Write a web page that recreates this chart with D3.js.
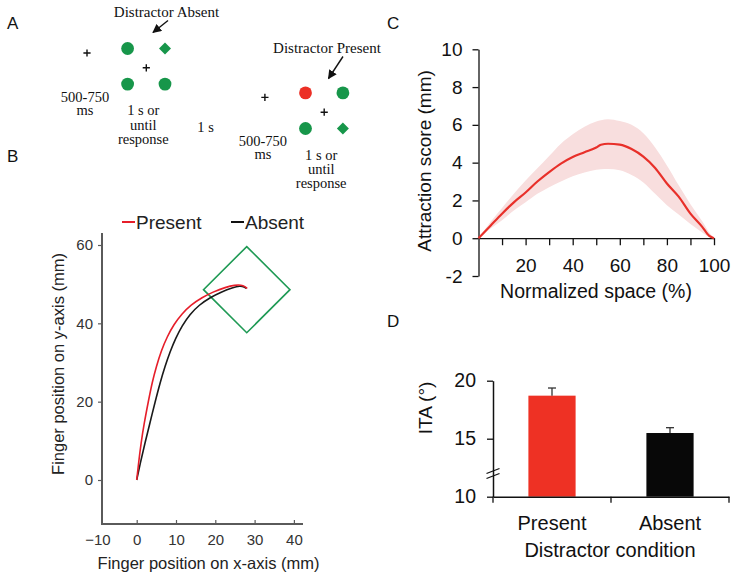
<!DOCTYPE html>
<html><head><meta charset="utf-8">
<script src="https://cdn.jsdelivr.net/npm/d3@7"></script>
<style>body{margin:0;background:#fff} svg{display:block}</style>
</head><body>
<svg id="fig" width="737" height="579"></svg>
<script>
// ================= DATA =================
// Panel A – schematic of trial sequence (timeline steps and stimulus grid cells)
const timelineSteps = [0, 1, 2, 3, 4];              // fixation, display, ITI, fixation, display
const fixationSteps = [0, 3];
const displaySteps = [1, 4];
const itiSteps = [2];
const fixationLabel = ["500-750", "ms"];
const displayLabel = ["1 s or", "until", "response"];
const itiLabel = ["1 s"];
const trialTitles = ["Distractor Absent", "Distractor Present"];
const absentDisplay = [
  {col: 0, row: 0, shape: "circle", kind: "nontarget"},
  {col: 1, row: 0, shape: "diamond", kind: "target"},
  {col: 0, row: 1, shape: "circle", kind: "nontarget"},
  {col: 1, row: 1, shape: "circle", kind: "nontarget"}
];
const presentDisplay = [
  {col: 0, row: 0, shape: "circle", kind: "distractor"},
  {col: 1, row: 0, shape: "circle", kind: "nontarget"},
  {col: 0, row: 1, shape: "circle", kind: "nontarget"},
  {col: 1, row: 1, shape: "diamond", kind: "target"}
];

// Panel B – mean finger trajectories (mm)
const presentX = [0, 0, 0.5, 1.1, 1.9, 2.95, 3.95, 5.0, 6.25, 7.75, 9.45, 11.45, 13.8, 16.6, 19.6, 22.6, 25.0, 26.6, 27.6, 28.1, 28.1];
const presentY = [0, 0, 4.5, 9.4, 14.5, 20, 25, 29, 33, 36.6, 39.7, 42.4, 44.7, 46.6, 48.1, 49.2, 49.8, 49.8, 49.4, 48.9, 48.9];
const absentX  = [0, 0, 0.95, 2.1, 3.35, 4.7, 6.0, 7.2, 8.5, 9.95, 11.55, 13.5, 15.9, 18.7, 21.7, 24.4, 26.3, 27.4, 27.9, 27.9];
const absentY  = [0, 0, 4.5, 9.4, 14.5, 20, 25, 29, 32.8, 36.3, 39.4, 42.3, 44.7, 46.6, 48.1, 49.1, 49.6, 49.3, 48.9, 48.9];
const targetCenter = [28, 48.6];
const targetHalfDiagonal = 11;
const bTicksX = [-10, 0, 10, 20, 30, 40];
const bTicksY = [0, 20, 40, 60];
const bSeries = ["Present", "Absent"];

// Panel C – attraction score vs normalized space
const normSpace       = [0, 5, 10, 15, 20, 25, 30, 35, 40, 45, 50, 52, 55, 60, 65, 70, 75, 80, 85, 90, 95, 98, 100];
const attractionMean  = [0, 0.65, 1.3, 1.9, 2.42, 3.0, 3.5, 3.95, 4.3, 4.55, 4.8, 4.95, 5.0, 4.95, 4.72, 4.32, 3.72, 2.9, 2.2, 1.3, 0.6, 0.12, 0];
const attractionUpper = [0, 0.85, 1.6, 2.35, 3.05, 3.7, 4.35, 5.0, 5.5, 5.9, 6.18, 6.25, 6.3, 6.2, 6.0, 5.55, 4.8, 3.85, 2.8, 1.8, 0.9, 0.3, 0];
const attractionLower = [0, 0.5, 0.95, 1.47, 1.9, 2.35, 2.7, 3.0, 3.28, 3.48, 3.62, 3.65, 3.66, 3.6, 3.35, 2.95, 2.35, 1.75, 1.25, 0.75, 0.3, 0.05, -0.05];
const cTicksY = [-2, 0, 2, 4, 6, 8, 10];
const cTicksX = [10, 20, 30, 40, 50, 60, 70, 80, 90, 100];
const cLabelsX = [20, 40, 60, 80, 100];

// Panel D – ITA by distractor condition
const conditions = ["Present", "Absent"];
const itaMean = [18.71, 15.49];
const itaErr = [0.66, 0.46];
const dTicksY = [10, 15, 20];

// ================= STYLE =================
const SANS = "'Liberation Sans', Arial, Helvetica, sans-serif";
const SERIF = "'Liberation Serif', 'Times New Roman', serif";
const GREEN = "#17964a";
const RED = "#ec2f25";
const svg = d3.select("#fig");

// panel letters
[["A", 7, 29], ["B", 7, 162], ["C", 387, 29], ["D", 387, 327]].forEach(([t, x, y]) =>
  svg.append("text").attr("x", x).attr("y", y).attr("font-family", SANS)
    .attr("font-size", 17).attr("fill", "#111").text(t));

// ================= PANEL A =================
(function () {
  const g = svg.append("g");
  const tx = d3.scaleLinear().domain([0, 4]).range([87, 324.2]);
  const ty = d3.scaleLinear().domain([0, 4]).range([53, 112.2]);
  const gx = d3.scaleLinear().domain([0, 1]).range([-18.7, 18.7]);
  const gy = d3.scaleLinear().domain([0, 1]).range([-17.8, 17.8]);
  const color = k => k === "distractor" ? RED : GREEN;

  const cross = (x, y) => g.append("path")
    .attr("d", `M${x - 3.6},${y}H${x + 3.6}M${x},${y - 3.6}V${y + 3.6}`)
    .attr("stroke", "#111").attr("stroke-width", 1.4);
  const multiline = (lines, x, y, dyLine) => {
    const t = g.append("text").attr("font-family", SERIF).attr("font-size", 14.5)
      .attr("text-anchor", "middle").attr("fill", "#111");
    lines.forEach((l, i) => t.append("tspan").attr("x", x).attr("y", y + i * dyLine).text(l));
  };

  fixationSteps.forEach(s => {
    cross(tx(s), ty(s));
    multiline(fixationLabel, tx(s) - 2, ty(s) + 49, 12.5);
  });
  itiSteps.forEach(s => multiline(itiLabel, tx(s), ty(s) + 49, 13));
  [absentDisplay, presentDisplay].forEach((items, i) => {
    const s = displaySteps[i];
    const cx = tx(s), cy = ty(s) - 1.5;
    cross(tx(s), ty(s));
    items.forEach(d => {
      const x = cx + gx(d.col), y = cy + gy(d.row);
      if (d.shape === "circle")
        g.append("circle").attr("cx", x).attr("cy", y).attr("r", 6.4).attr("fill", color(d.kind));
      else
        g.append("path").attr("d", `M${x},${y - 6}L${x + 6},${y}L${x},${y + 6}L${x - 6},${y}Z`).attr("fill", color(d.kind));
    });
    multiline(displayLabel, tx(s) - 3, ty(s) + 47.5, 14.2);
  });

  const defs = svg.append("defs");
  defs.append("marker").attr("id", "ah").attr("viewBox", "0 0 10 10").attr("refX", 9).attr("refY", 5)
    .attr("markerWidth", 9).attr("markerHeight", 9).attr("orient", "auto").attr("markerUnits", "userSpaceOnUse")
    .append("path").attr("d", "M0,0L10,5L0,10Z").attr("fill", "#111");
  const titlePos = [[166.5, 17], [327, 53]];
  const arrows = [[[168, 20.5], [153, 32.5]], [[343, 56.5], [328.5, 78.5]]];
  trialTitles.forEach((t, i) => {
    g.append("text").attr("x", titlePos[i][0]).attr("y", titlePos[i][1]).attr("font-family", SERIF)
      .attr("font-size", 15).attr("text-anchor", "middle").attr("fill", "#111").text(t);
    g.append("line").attr("x1", arrows[i][0][0]).attr("y1", arrows[i][0][1])
      .attr("x2", arrows[i][1][0]).attr("y2", arrows[i][1][1])
      .attr("stroke", "#111").attr("stroke-width", 1.4).attr("marker-end", "url(#ah)");
  });
})();

// ================= PANEL B =================
(function () {
  const g = svg.append("g");
  const x = d3.scaleLinear().domain([-10, 40]).range([97.4, 293.9]);
  const y = d3.scaleLinear().domain([0, 60]).range([480, 245]);
  const axisY = 524, axisX = 102;
  const AX = "#5a5a5a";

  g.append("line").attr("x1", axisX).attr("x2", 303).attr("y1", axisY).attr("y2", axisY)
    .attr("stroke", AX).attr("stroke-width", 2);
  g.append("line").attr("x1", axisX).attr("x2", axisX).attr("y1", axisY + 1).attr("y2", 233)
    .attr("stroke", AX).attr("stroke-width", 2);

  const xa = g.append("g").attr("transform", `translate(0,${axisY})`)
    .call(d3.axisBottom(x).tickValues(bTicksX).tickSize(-4).tickPadding(10).tickFormat(d3.format("d")));
  xa.select(".domain").remove();
  xa.selectAll(".tick line").attr("stroke", AX).attr("stroke-width", 1.2)
    .attr("opacity", d => x(d) < axisX ? 0 : 1);
  xa.selectAll("text").attr("font-family", SANS).attr("font-size", 15).attr("fill", "#333");

  const ya = g.append("g").attr("transform", `translate(${axisX},0)`)
    .call(d3.axisLeft(y).tickValues(bTicksY).tickSize(4).tickPadding(5));
  ya.select(".domain").remove();
  ya.selectAll(".tick line").attr("stroke", AX).attr("stroke-width", 1.2);
  ya.selectAll("text").attr("font-family", SANS).attr("font-size", 15).attr("fill", "#333");

  const [tcx, tcy] = targetCenter, h = targetHalfDiagonal;
  g.append("path")
    .attr("d", d3.line()([[x(tcx), y(tcy + h)], [x(tcx + h), y(tcy)], [x(tcx), y(tcy - h)], [x(tcx - h), y(tcy)]]) + "Z")
    .attr("fill", "none").attr("stroke", "#1f9a55").attr("stroke-width", 1.6);

  const line = d3.line().x(d => x(d[0])).y(d => y(d[1])).curve(d3.curveBasis);
  g.append("path").datum(d3.zip(absentX, absentY)).attr("d", line)
    .attr("fill", "none").attr("stroke", "#1a1a1a").attr("stroke-width", 1.6);
  g.append("path").datum(d3.zip(presentX, presentY)).attr("d", line)
    .attr("fill", "none").attr("stroke", "#e61e2a").attr("stroke-width", 1.6);

  const legCol = ["#e61e2a", "#111"];
  const legX = [122, 231];
  bSeries.forEach((s, i) => {
    g.append("line").attr("x1", legX[i]).attr("x2", legX[i] + 13).attr("y1", 222).attr("y2", 222)
      .attr("stroke", legCol[i]).attr("stroke-width", 2);
    g.append("text").attr("x", legX[i] + 14).attr("y", 229).attr("font-family", SANS)
      .attr("font-size", 19).attr("fill", "#222").text(s);
  });

  g.append("text").attr("x", 208.5).attr("y", 569).attr("text-anchor", "middle")
    .attr("font-family", SANS).attr("font-size", 16.5).attr("fill", "#222")
    .text("Finger position on x-axis (mm)");
  g.append("text").attr("transform", "translate(64,364) rotate(-90)").attr("text-anchor", "middle")
    .attr("font-family", SANS).attr("font-size", 16.5).attr("fill", "#222")
    .text("Finger position on y-axis (mm)");
})();

// ================= PANEL C =================
(function () {
  const g = svg.append("g");
  const x = d3.scaleLinear().domain([0, 100]).range([478.5, 714]);
  const y = d3.scaleLinear().domain([-2, 10]).range([276, 49.3]);

  g.append("path").datum(normSpace.map((v, i) => [v, attractionLower[i], attractionUpper[i]]))
    .attr("d", d3.area().x(d => x(d[0])).y0(d => y(d[1])).y1(d => y(d[2])).curve(d3.curveMonotoneX))
    .attr("fill", "#f8dede");

  const ya = g.append("g").attr("transform", `translate(${x(0)},0)`)
    .call(d3.axisLeft(y).tickValues(cTicksY).tickSize(6).tickPadding(10).tickSizeOuter(0).tickFormat(d3.format("d")));
  const xa = g.append("g").attr("transform", `translate(0,${y(0)})`)
    .call(d3.axisBottom(x).tickValues(cTicksX).tickSize(7).tickPadding(13).tickSizeOuter(0)
      .tickFormat(d => cLabelsX.includes(d) ? d : ""));
  [ya, xa].forEach(a => {
    a.select(".domain").attr("stroke", "#111").attr("stroke-width", 1.3);
    a.selectAll(".tick line").attr("stroke", "#111").attr("stroke-width", 1.3);
    a.selectAll("text").attr("font-family", SANS).attr("font-size", 19).attr("fill", "#111");
  });
  ya.selectAll("text").text(d => d < 0 ? "-" + Math.abs(d) : d);

  g.append("path").datum(d3.zip(normSpace, attractionMean))
    .attr("d", d3.line().x(d => x(d[0])).y(d => y(d[1])).curve(d3.curveMonotoneX))
    .attr("fill", "none").attr("stroke", "#e8302a").attr("stroke-width", 2.2);

  g.append("text").attr("x", 596).attr("y", 297.5).attr("text-anchor", "middle")
    .attr("font-family", SANS).attr("font-size", 19.5).attr("fill", "#111").text("Normalized space (%)");
  g.append("text").attr("transform", "translate(431,161) rotate(-90)").attr("text-anchor", "middle")
    .attr("font-family", SANS).attr("font-size", 19).attr("fill", "#111").text("Attraction score (mm)");
})();

// ================= PANEL D =================
(function () {
  const g = svg.append("g");
  const x = d3.scaleBand().domain(conditions).range([493, 729]).paddingInner(0.6).paddingOuter(0.3);
  const y = d3.scaleLinear().domain([10, 20]).range([496.7, 380.7]);
  const barCol = ["#ee3124", "#080808"];

  g.selectAll("rect.bar").data(conditions).enter().append("rect")
    .attr("x", d => x(d)).attr("width", x.bandwidth())
    .attr("y", (d, i) => y(itaMean[i])).attr("height", (d, i) => y(10) - y(itaMean[i]))
    .attr("fill", (d, i) => barCol[i]);

  conditions.forEach((c, i) => {
    const cx = x(c) + x.bandwidth() / 2;
    g.append("line").attr("x1", cx).attr("x2", cx).attr("y1", y(itaMean[i]))
      .attr("y2", y(itaMean[i] + itaErr[i])).attr("stroke", "#333").attr("stroke-width", 1.3);
    g.append("line").attr("x1", cx - 4).attr("x2", cx + 4).attr("y1", y(itaMean[i] + itaErr[i]))
      .attr("y2", y(itaMean[i] + itaErr[i])).attr("stroke", "#333").attr("stroke-width", 1.3);
  });

  const ya = g.append("g").attr("transform", `translate(493,0)`)
    .call(d3.axisLeft(y).tickValues(dTicksY).tickSize(6).tickPadding(11).tickSizeOuter(0));
  ya.select(".domain").attr("stroke", "#111").attr("stroke-width", 1.5);
  ya.selectAll(".tick line").attr("stroke", "#111").attr("stroke-width", 1.3);
  ya.selectAll("text").attr("font-family", SANS).attr("font-size", 19.5).attr("fill", "#111");

  const xa = g.append("g").attr("transform", `translate(0,${y(10)})`)
    .call(d3.axisBottom(x).tickSize(0).tickPadding(19).tickSizeOuter(0));
  xa.select(".domain").attr("stroke", "#111").attr("stroke-width", 1.5);
  xa.selectAll("text").attr("font-family", SANS).attr("font-size", 20).attr("fill", "#111");
  [0, 1, 2].forEach(k => {
    const bx = 493 + k * x.step();
    g.append("line").attr("x1", bx).attr("x2", bx).attr("y1", y(10)).attr("y2", y(10) + 6)
      .attr("stroke", "#111").attr("stroke-width", 1.3);
  });

  [0, 5].forEach(o => g.append("line").attr("x1", 486.5).attr("y1", 473.5 + o).attr("x2", 499.5).attr("y2", 468.5 + o)
    .attr("stroke", "#111").attr("stroke-width", 1.3));

  g.append("text").attr("x", 610).attr("y", 557).attr("text-anchor", "middle")
    .attr("font-family", SANS).attr("font-size", 20).attr("fill", "#111").text("Distractor condition");
  g.append("text").attr("transform", "translate(432,408) rotate(-90)").attr("text-anchor", "middle")
    .attr("font-family", SANS).attr("font-size", 19).attr("fill", "#111").text("ITA (°)");
})();
</script>
</body></html>
